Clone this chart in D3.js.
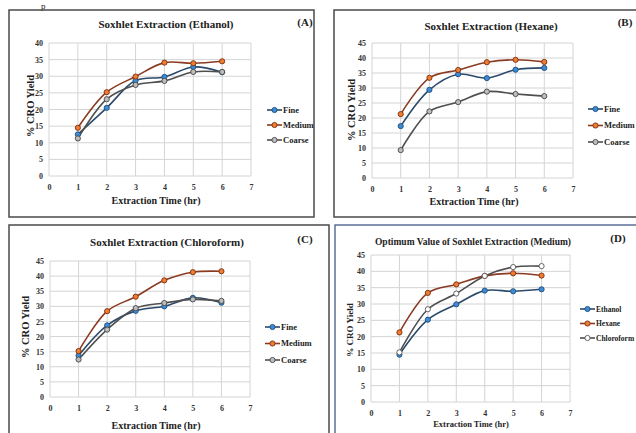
<!DOCTYPE html>
<head>
  <meta charset="utf-8">
  <script src="https://cdnjs.cloudflare.com/ajax/libs/d3/7.8.5/d3.min.js"></script>
</head>
<style>
  body { margin: 0; background: #fff; }
  text { font-family: "Liberation Serif", "Times New Roman", serif; font-weight: bold; fill: #222; }
  .tick text { font-size: 8px; fill: #333; }
  .grid line { stroke: #d4d4d4; stroke-width: 1; }
</style>
<body>
  <svg width="636" height="433" viewBox="0 0 636 433" class="fig"></svg>
  <script>
  // extraction time (hr)
  let hours = [1, 2, 3, 4, 5, 6];
  let xTicks = [0, 1, 2, 3, 4, 5, 6, 7];

  // (A) ethanol
  let ethanolFine   = [12.5, 20.5, 28.7, 29.8, 32.8, 31.2];
  let ethanolMedium = [14.5, 25.2, 29.9, 34.1, 33.9, 34.5];
  let ethanolCoarse = [11.3, 23.1, 27.4, 28.6, 31.3, 31.3];

  // (B) hexane
  let hexaneFine   = [17.3, 29.4, 34.6, 33.3, 36.1, 36.7];
  let hexaneMedium = [21.3, 33.4, 36.0, 38.6, 39.4, 38.7];
  let hexaneCoarse = [9.3, 22.2, 25.3, 28.8, 28.0, 27.3];

  // (C) chloroform
  let chloroFine   = [13.7, 23.7, 28.5, 30.0, 32.8, 31.2];
  let chloroMedium = [15.2, 28.4, 33.2, 38.6, 41.3, 41.6];
  let chloroCoarse = [12.4, 22.3, 29.4, 31.1, 32.3, 31.8];

  let sizeNames = ["Fine", "Medium", "Coarse"];
  let solventNames = ["Ethanol", "Hexane", "Chloroform"];

  let styles = [
    {line: "#2b4a6b", fill: "#3d8bd6", stroke: "#1f4e79"},
    {line: "#8a3b22", fill: "#ed7d31", stroke: "#7a2e10"},
    {line: "#4f4f4f", fill: "#bdbdbd", stroke: "#454545"}
  ];
  let stylesD = [styles[0], styles[1], {line: "#4f4f4f", fill: "#ffffff", stroke: "#555"}];

  let panels = [
    {box: [9, 10, 314, 217], border: "#4a4a4a", plot: [49, 251, 43, 176], yMax: 40,
     title: "Soxhlet Extraction (Ethanol)", tPos: [166, 28], tag: "(A)", tagPos: [305, 26],
     xtY: 204, xtX: 156, ytX: 30, ytY: 106,
     names: sizeNames, series: [ethanolFine, ethanolMedium, ethanolCoarse], st: styles,
     leg: [267, 110, 15]},
    {box: [334, 10, 640, 217], border: "#4a4a4a", plot: [372, 573, 43, 178], yMax: 45,
     title: "Soxhlet Extraction (Hexane)", tPos: [491, 30], tag: "(B)", tagPos: [625, 26],
     xtY: 205, xtX: 474, ytX: 351, ytY: 110,
     names: sizeNames, series: [hexaneFine, hexaneMedium, hexaneCoarse], st: styles,
     leg: [588, 109, 16.5]},
    {box: [9, 225, 329, 440], border: "#4a4a4a", plot: [50, 250, 261, 397], yMax: 45,
     title: "Soxhlet Extraction (Chloroform)", tPos: [167, 246], tag: "(C)", tagPos: [305, 243],
     xtY: 429, xtX: 156, ytX: 25, ytY: 327,
     names: sizeNames, series: [chloroFine, chloroMedium, chloroCoarse], st: styles,
     leg: [265, 327, 16.5]},
    {box: [335, 225, 640, 440], border: "#5a6f96", plot: [371, 570, 255, 402], yMax: 45,
     title: "Optimum Value of Soxhlet Extraction (Medium)", tPos: [473, 245], tag: "(D)", tagPos: [618, 242],
     xtY: 427, xtX: 471, ytX: 350, ytY: 330, small: true,
     names: solventNames, series: [ethanolMedium, hexaneMedium, chloroMedium], st: stylesD,
     leg: [580, 309, 14.5]}
  ];

  let svg = d3.select(".fig");

  // caption fragment at the very top
  svg.append("text").attr("x", 41).attr("y", 9).style("font-size", "9px").style("font-weight", "normal").text("p");

  panels.forEach(function(p) {
    let g = svg.append("g");

    g.append("rect")
      .attr("x", p.box[0]).attr("y", p.box[1])
      .attr("width", p.box[2] - p.box[0]).attr("height", p.box[3] - p.box[1])
      .attr("fill", "none").attr("stroke", p.border).attr("stroke-width", 1.5);

    let x = d3.scaleLinear().domain([0, 7]).range([p.plot[0], p.plot[1]]);
    let y = d3.scaleLinear().domain([0, p.yMax]).range([p.plot[3], p.plot[2]]);
    let yTicks = d3.range(0, p.yMax + 1, 5);

    // grid
    g.append("g").attr("class", "grid")
      .selectAll("line").data(yTicks).enter().append("line")
      .attr("x1", p.plot[0]).attr("x2", p.plot[1])
      .attr("y1", function(d) { return y(d); }).attr("y2", function(d) { return y(d); });
    g.append("g").attr("class", "grid")
      .selectAll("line").data(xTicks).enter().append("line")
      .attr("y1", p.plot[2]).attr("y2", p.plot[3])
      .attr("x1", function(d) { return x(d); }).attr("x2", function(d) { return x(d); });

    // axes (labels only)
    let xa = g.append("g").attr("transform", "translate(0," + p.plot[3] + ")")
      .call(d3.axisBottom(x).tickValues(xTicks).tickFormat(d3.format("d")).tickSize(0).tickPadding(8));
    let ya = g.append("g").attr("transform", "translate(" + p.plot[0] + ",0)")
      .call(d3.axisLeft(y).tickValues(yTicks).tickFormat(d3.format("d")).tickSize(0).tickPadding(6));
    xa.select(".domain").remove();
    ya.select(".domain").remove();
    xa.selectAll("text").style("font-family", "Liberation Serif");
    ya.selectAll("text").style("font-family", "Liberation Serif");

    // titles
    g.append("text").attr("x", p.tPos[0]).attr("y", p.tPos[1]).attr("text-anchor", "middle")
      .style("font-size", p.small ? "9.5px" : "11px").text(p.title);
    g.append("text").attr("x", p.tagPos[0]).attr("y", p.tagPos[1]).attr("text-anchor", "middle")
      .style("font-size", "11px").text(p.tag);
    g.append("text").attr("x", p.xtX).attr("y", p.xtY).attr("text-anchor", "middle")
      .style("font-size", p.small ? "8.5px" : "10px").text("Extraction Time (hr)");
    g.append("text").attr("transform", "translate(" + p.ytX + "," + p.ytY + ") rotate(-90)")
      .attr("text-anchor", "middle").attr("dy", "0.35em")
      .style("font-size", p.small ? "9px" : "10.5px").text("% CRO Yield");

    let line = d3.line()
      .x(function(d, i) { return x(hours[i]); })
      .y(function(d) { return y(d); })
      .curve(d3.curveCatmullRom.alpha(0.5));

    p.series.forEach(function(vals, k) {
      let s = p.st[k];
      g.append("path").datum(vals).attr("d", line)
        .attr("fill", "none").attr("stroke", s.line).attr("stroke-width", 1.6);
    });
    p.series.forEach(function(vals, k) {
      let s = p.st[k];
      g.selectAll(null).data(vals).enter().append("circle")
        .attr("cx", function(d, i) { return x(hours[i]); })
        .attr("cy", function(d) { return y(d); })
        .attr("r", 2.6).attr("fill", s.fill).attr("stroke", s.stroke).attr("stroke-width", 0.9);
    });

    // legend
    let lg = g.append("g").attr("transform", "translate(" + p.leg[0] + "," + p.leg[1] + ")");
    p.names.forEach(function(n, k) {
      let s = p.st[k];
      let row = lg.append("g").attr("transform", "translate(0," + (k * p.leg[2]) + ")");
      row.append("line").attr("x1", 0).attr("x2", 15).attr("stroke", s.line).attr("stroke-width", 1.6);
      row.append("circle").attr("cx", 7.5).attr("r", 2.6)
        .attr("fill", s.fill).attr("stroke", s.stroke).attr("stroke-width", 0.9);
      row.append("text").attr("x", 16).attr("dy", "0.35em")
        .style("font-size", p.small ? "7.5px" : "8.5px").text(n);
    });
  });
  </script>
</body>
</html>
